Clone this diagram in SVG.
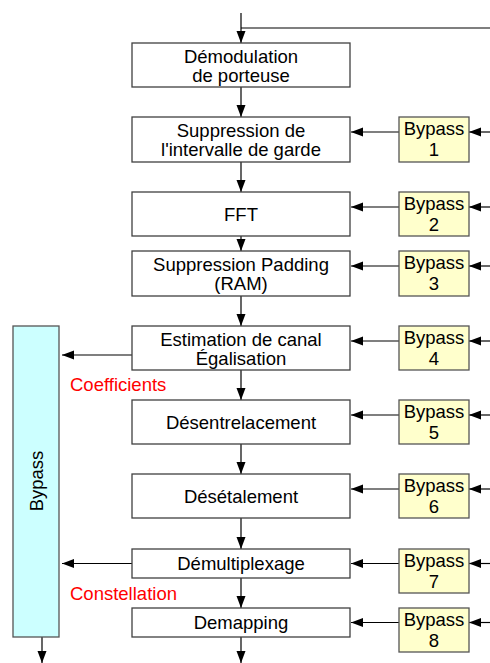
<svg xmlns="http://www.w3.org/2000/svg" width="490" height="663" viewBox="0 0 490 663">
<defs>
<marker id="ah" viewBox="0 0 12 10" refX="12" refY="5" markerWidth="12" markerHeight="10" markerUnits="userSpaceOnUse" orient="auto"><path d="M0,0.5 L12,5 L0,9.5 z" fill="#000"/></marker>
<style>
.box{fill:#fff;stroke:#404040;stroke-width:1.3}
.byp{fill:#ffffcc;stroke:#555;stroke-width:1.3}
.side{fill:#ccffff;stroke:#555;stroke-width:1.3}
text{font-family:"Liberation Sans",Arial,sans-serif;font-size:18.5px;fill:#000;text-anchor:middle}
.red{fill:#ff0000;text-anchor:start}
.c line,.c polyline{stroke:#000;stroke-width:1.2;fill:none;marker-end:url(#ah)}
.c .plain{marker-end:none}
</style>
</defs>
<rect width="490" height="663" fill="#fff"/>
<g id="connectors" class="c">
<line x1="241" y1="13" x2="241" y2="43"/>
<line class="plain" x1="241" y1="28" x2="490" y2="28"/>
<line x1="241" y1="87" x2="241" y2="117"/>
<line x1="241" y1="162" x2="241" y2="192"/>
<line x1="241" y1="236" x2="241" y2="251"/>
<line x1="241" y1="296" x2="241" y2="326"/>
<line x1="241" y1="370" x2="241" y2="400"/>
<line x1="241" y1="444" x2="241" y2="474"/>
<line x1="241" y1="518" x2="241" y2="549"/>
<line x1="241" y1="578" x2="241" y2="608"/>
<line x1="241" y1="637" x2="241" y2="663"/>
<line x1="42" y1="637" x2="42" y2="663"/>
<line x1="132" y1="355" x2="62" y2="355"/>
<line x1="132" y1="563.5" x2="62" y2="563.5"/>
<line x1="490" y1="132" x2="469" y2="132"/>
<line x1="399" y1="132" x2="351" y2="132"/>
<line x1="490" y1="207" x2="469" y2="207"/>
<line x1="399" y1="207" x2="351" y2="207"/>
<line x1="490" y1="266" x2="469" y2="266"/>
<line x1="399" y1="266" x2="351" y2="266"/>
<line x1="490" y1="341" x2="469" y2="341"/>
<line x1="399" y1="341" x2="351" y2="341"/>
<line x1="490" y1="415" x2="469" y2="415"/>
<line x1="399" y1="415" x2="351" y2="415"/>
<line x1="490" y1="489" x2="469" y2="489"/>
<line x1="399" y1="489" x2="351" y2="489"/>
<line x1="490" y1="563.5" x2="469" y2="563.5"/>
<line x1="399" y1="563.5" x2="351" y2="563.5"/>
<line x1="490" y1="622.5" x2="469" y2="622.5"/>
<line x1="399" y1="622.5" x2="351" y2="622.5"/>
</g>
<g id="demod"><rect class="box" x="132" y="43" width="218" height="44"/><text x="241" y="62.5">Démodulation</text><text x="241" y="82">de porteuse</text></g>
<g id="suppr-garde"><rect class="box" x="132" y="117" width="218" height="45"/><text x="241" y="136.5">Suppression de</text><text x="241" y="156">l'intervalle de garde</text></g>
<g id="fft"><rect class="box" x="132" y="192" width="218" height="44"/><text x="241" y="220.5">FFT</text></g>
<g id="suppr-padding"><rect class="box" x="132" y="251" width="218" height="45"/><text x="241" y="270.5">Suppression Padding</text><text x="241" y="290">(RAM)</text></g>
<g id="estimation"><rect class="box" x="132" y="326" width="218" height="44"/><text x="241" y="345.5">Estimation de canal</text><text x="241" y="364.5">Égalisation</text></g>
<g id="desentrelacement"><rect class="box" x="132" y="400" width="218" height="44"/><text x="241" y="428.5">Désentrelacement</text></g>
<g id="desetalement"><rect class="box" x="132" y="474" width="218" height="44"/><text x="241" y="502.5">Désétalement</text></g>
<g id="demultiplexage"><rect class="box" x="132" y="549" width="218" height="29"/><text x="241" y="570">Démultiplexage</text></g>
<g id="demapping"><rect class="box" x="132" y="608" width="218" height="29"/><text x="241" y="629">Demapping</text></g>
<g id="bypass1"><rect class="byp" x="399" y="117" width="70" height="45"/><text x="434" y="135">Bypass</text><text x="434" y="156">1</text></g>
<g id="bypass2"><rect class="byp" x="399" y="192" width="70" height="44"/><text x="434" y="210">Bypass</text><text x="434" y="231">2</text></g>
<g id="bypass3"><rect class="byp" x="399" y="251" width="70" height="45"/><text x="434" y="269">Bypass</text><text x="434" y="290">3</text></g>
<g id="bypass4"><rect class="byp" x="399" y="326" width="70" height="44"/><text x="434" y="344">Bypass</text><text x="434" y="365">4</text></g>
<g id="bypass5"><rect class="byp" x="399" y="400" width="70" height="44"/><text x="434" y="418">Bypass</text><text x="434" y="439">5</text></g>
<g id="bypass6"><rect class="byp" x="399" y="474" width="70" height="44"/><text x="434" y="492">Bypass</text><text x="434" y="513">6</text></g>
<g id="bypass7"><rect class="byp" x="399" y="549" width="70" height="44"/><text x="434" y="567">Bypass</text><text x="434" y="588">7</text></g>
<g id="bypass8"><rect class="byp" x="399" y="608" width="70" height="44"/><text x="434" y="626">Bypass</text><text x="434" y="647">8</text></g>
<g id="bypass-side"><rect class="side" x="13" y="326" width="46" height="311"/><text transform="translate(43,481) rotate(-90)">Bypass</text></g>
<g id="labels"><text class="red" x="70" y="391">Coefficients</text><text class="red" x="70" y="600">Constellation</text></g>
</svg>
